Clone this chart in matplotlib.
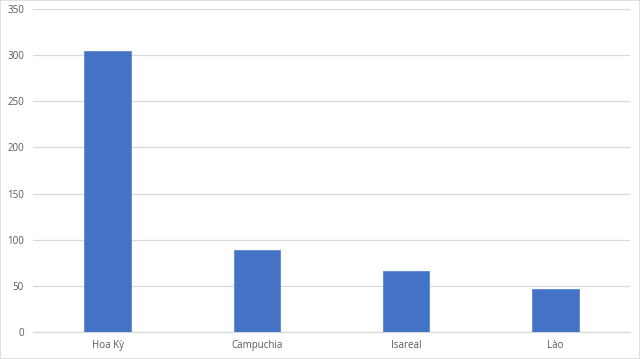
import matplotlib
matplotlib.use("Agg")
import matplotlib.pyplot as plt

categories = ["Hoa Kỳ", "Campuchia", "Isareal", "Lào"]
values = [305, 89, 66, 47]
yticks = [0, 50, 100, 150, 200, 250, 300, 350]

plt.rcParams['font.family'] = ['Open Sans', 'DejaVu Sans']

fig = plt.figure(figsize=(6.4, 3.59), dpi=100)
ax = fig.add_axes([33/640, 27/359, 597/640, 323/359])

x = list(range(len(categories)))
ax.bar(x, values, width=0.31, color="#4472C4", edgecolor="#5B86D6", linewidth=0.6, zorder=3)

ax.set_xlim(-0.5, len(categories) - 0.5)
ax.set_ylim(0, 350)
ax.set_yticks(yticks)
ax.set_yticklabels([str(t) for t in yticks])
ax.set_xticks(x)
ax.set_xticklabels(categories)

ax.grid(axis="y", color="#D9D9D9", linewidth=0.9, zorder=0)
for s in ["top", "right", "left"]:
    ax.spines[s].set_visible(False)
ax.spines["bottom"].set_color("#D9D9D9")
ax.spines["bottom"].set_linewidth(0.9)

ax.tick_params(axis="both", length=0, labelsize=7, colors="#595959")
ax.tick_params(axis="y", pad=6.5)
ax.tick_params(axis="x", pad=6)

fig.patches.append(matplotlib.patches.Rectangle((0, 0), 1, 1, transform=fig.transFigure,
                                                fill=False, edgecolor="#D9D9D9", linewidth=1.2))

fig.savefig("out.png", dpi=100)
